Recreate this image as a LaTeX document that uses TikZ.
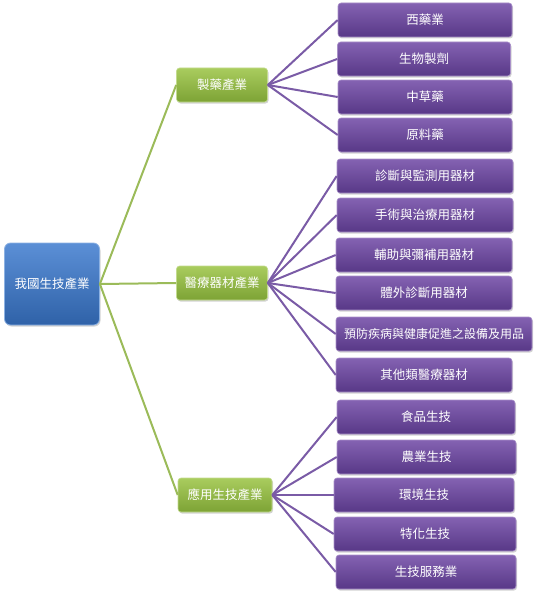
\documentclass[tikz,border=0pt]{standalone}
\usepackage{fontspec}
\setmainfont{Noto Sans CJK TC}
\usetikzlibrary{shadows}
\definecolor{rootA}{HTML}{5B8FD6}
\definecolor{rootB}{HTML}{2F62A8}
\definecolor{grnA}{HTML}{A9CC5E}
\definecolor{grnB}{HTML}{7DA335}
\definecolor{purA}{HTML}{8462B2}
\definecolor{purB}{HTML}{583887}
\definecolor{grnline}{HTML}{9BBB59}
\definecolor{purline}{HTML}{7A5BA6}
\tikzset{
  base/.style={rectangle, rounded corners=3pt, inner sep=0pt, text=white,
    font=\fontsize{12.5}{14}\selectfont, drop shadow={shadow xshift=1pt, shadow yshift=-1.5pt, opacity=0.35}},
  rootbox/.style={base, top color=rootA, bottom color=rootB, draw=rootA!70!white, line width=0.8pt,
    minimum width=95pt, minimum height=82pt, rounded corners=6pt},
  lvone/.style={base, top color=grnA, bottom color=grnB, draw=grnA!70!white, line width=0.6pt,
    minimum height=34pt},
  lvtwo/.style={base, top color=purA, bottom color=purB, draw=purA!70!white, line width=0.6pt,
    minimum height=34pt},
  gline/.style={draw=grnline, line width=2pt},
  pline/.style={draw=purline, line width=2pt},
}
\begin{document}
\begin{tikzpicture}[x=1pt,y=-1pt]
\useasboundingbox (0,0) rectangle (538,594);
\node[rootbox] (root) at (52,284) {我國生技產業};
\node[lvone, minimum width=91pt] (a) at (222,85) {製藥產業};
\node[lvone, minimum width=91pt] (b) at (222,283) {醫療器材產業};
\node[lvone, minimum width=94pt] (c) at (225,495) {應用生技產業};

\node[lvtwo, minimum width=174pt] (a1) at (425,20) {西藥業};
\node[lvtwo, minimum width=173pt] (a2) at (424,59) {生物製劑};
\node[lvtwo, minimum width=174pt] (a3) at (425,97) {中草藥};
\node[lvtwo, minimum width=174pt] (a4) at (425,135) {原料藥};

\node[lvtwo, minimum width=176pt] (b1) at (425,176) {診斷與監測用器材};
\node[lvtwo, minimum width=176pt] (b2) at (425,215) {手術與治療用器材};
\node[lvtwo, minimum width=176pt] (b3) at (424,255) {輔助與彌補用器材};
\node[lvtwo, minimum width=176pt] (b4) at (424,293) {體外診斷用器材};
\node[lvtwo, minimum width=196pt, font=\fontsize{12}{14}\selectfont] (b5) at (434,334) {預防疾病與健康促進之設備及用品};
\node[lvtwo, minimum width=176pt] (b6) at (424,375) {其他類醫療器材};

\node[lvtwo, minimum width=178pt] (c1) at (426,417) {食品生技};
\node[lvtwo, minimum width=179pt] (c2) at (426.5,457) {農業生技};
\node[lvtwo, minimum width=180pt] (c3) at (424,495) {環境生技};
\node[lvtwo, minimum width=182pt] (c4) at (425,534) {特化生技};
\node[lvtwo, minimum width=180pt] (c5) at (426,572) {生技服務業};

\foreach \t in {a,b,c} \path[gline] (root.east) -- (\t.west);
\foreach \t in {a1,a2,a3,a4} \path[pline] (a.east) -- (\t.west);
\foreach \t in {b1,b2,b3,b4,b5,b6} \path[pline] (b.east) -- (\t.west);
\foreach \t in {c1,c2,c3,c4,c5} \path[pline] (c.east) -- (\t.west);
\end{tikzpicture}
\end{document}
